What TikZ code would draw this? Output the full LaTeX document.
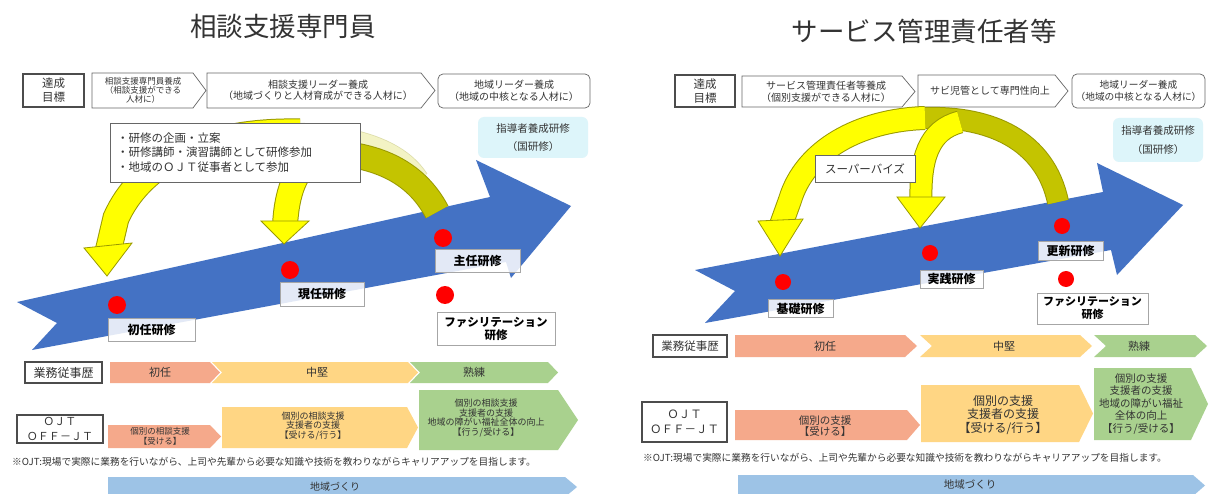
\documentclass[tikz,border=0pt]{standalone}
\usepackage{fontspec}
\setmainfont{Noto Sans CJK JP}
\usetikzlibrary{calc}
\definecolor{bluearr}{HTML}{4472C4}
\definecolor{redd}{HTML}{FF0000}
\definecolor{yel}{HTML}{FFFF00}
\definecolor{olv}{HTML}{C4C400}
\definecolor{olvd}{HTML}{9A9A00}
\definecolor{pale}{HTML}{F3F3C4}
\definecolor{paled}{HTML}{DCDCA8}
\definecolor{salmon}{HTML}{F5A98B}
\definecolor{midor}{HTML}{FFD684}
\definecolor{grn}{HTML}{A9D18E}
\definecolor{lblue}{HTML}{9DC3E6}
\definecolor{cyanbox}{HTML}{DDF5FA}
\definecolor{txt}{HTML}{333333}
\newcommand{\fsz}[2]{\fontsize{#1}{#2}\selectfont}
\newcommand{\chev}[7]{\path[#1] (#2,#3) -- ({#4-#6},#3) -- (#4,{(#3+#5)/2}) -- ({#4-#6},#5) -- (#2,#5) -- ({#2+#7},{(#3+#5)/2}) -- cycle;}
\newcommand{\yband}[5]{\draw[#2, line width=#4] #5; \draw[#1, line width=#3] #5;}
\tikzset{
  goal/.style={draw=black!70, line width=1.3pt, fill=white, align=center, font=\fsz{11.5}{14}},
  chv/.style={draw=black!60, line width=0.7pt, fill=white},
  lbl/.style={draw=black!35, line width=0.8pt, fill=white, fill opacity=0.85, draw opacity=1, text opacity=1, font=\bfseries\fsz{12}{14}, text=black},
  dotn/.style={circle, fill=redd, minimum size=#1},
  yhead/.style={fill=yel, draw=olvd, line width=0.8pt},
  plainbox/.style={draw=black!60, line width=0.8pt, fill=white}
}
\begin{document}
\begin{tikzpicture}[x=1pt,y=-1pt, every node/.style={inner sep=0pt, text=txt}]
\useasboundingbox (0,0) rectangle (1209,494);
\fill[white] (0,0) rectangle (1209,494);

% titles
\node[font=\fsz{26.5}{30}] (t1) at (283,26) {相談支援専門員};
\node[font=\fsz{26.5}{30}] (t2) at (924,31) {サービス管理責任者等};

% ===== LEFT top row
\node[goal, minimum width=61pt, minimum height=33pt] (g1) at (53.5,90.5) {達成\\目標};
\chev{chv}{92}{73}{206}{108}{13}{0}
\node[font=\fsz{8.5}{8.8}, align=center] (c1) at (143,90.5) {相談支援専門員養成\\（相談支援ができる\\人材に）};
\chev{chv}{207}{73}{435}{108}{14}{0}
\node[font=\fsz{10}{11.5}, align=center] (c2) at (318,90.5) {相談支援リーダー養成\\（地域づくりと人材育成ができる人材に）};
\node[chv, rounded corners=5pt, minimum width=152pt, minimum height=34pt, align=center, font=\fsz{10}{11.5}] (c3) at (514,91) {地域リーダー養成\\（地域の中核となる人材に）};
\node[fill=cyanbox, rounded corners=6pt, minimum width=110pt, minimum height=41pt, align=center, font=\fsz{10.5}{18}] (k1) at (533,137.5) {指導者養成研修\\（国研修）};

% ===== RIGHT top row
\node[goal, minimum width=60pt, minimum height=32pt] (g2) at (705,91) {達成\\目標};
\chev{chv}{742}{76}{915}{107}{13}{0}
\node[font=\fsz{10}{12}, align=center] (c4) at (826,91.5) {サービス管理責任者等養成\\（個別支援ができる人材に）};
\chev{chv}{918}{75}{1068}{107}{13}{0}
\node[font=\fsz{10}{12}] (c5) at (990,91) {サビ児管として専門性向上};
\node[chv, rounded corners=5pt, minimum width=133pt, minimum height=34pt, align=center, font=\fsz{9.7}{12}] (c6) at (1138.5,91) {地域リーダー養成\\（地域の中核となる人材に）};
\node[fill=cyanbox, rounded corners=6pt, minimum width=90pt, minimum height=44pt, align=center, font=\fsz{10.5}{19}] (k2) at (1158,140) {指導者養成研修\\（国研修）};

% ===== blue arrows
\fill[bluearr] (17,302) -- (490,197) -- (476,160) -- (571,206) -- (511,278) -- (506,262) -- (32,350) -- (57,323) -- cycle;
\fill[bluearr] (695,270) -- (1103,192) -- (1097,163) -- (1183,205) -- (1117,275) -- (1111,250) -- (705,323) -- (735,291) -- cycle;

% ===== yellow arcs left
\yband{pale}{paled}{21pt}{22.5pt}{(418,180) .. controls (400,152) and (360,137) .. (300,134)}
\yband{olv}{olvd}{24pt}{26pt}{(437,212) .. controls (415,170) and (375,156) .. (335,153)}
\yband{yel}{olvd}{25pt}{27pt}{(300,132) .. controls (200,130) and (140,165) .. (116,218) -- (108,252)}
\filldraw[yhead] (84,248) -- (132,243) -- (107,276) -- cycle;
\yband{yel}{olvd}{24pt}{26pt}{(335,153) .. controls (300,154) and (287,185) .. (285,226)}
\filldraw[yhead] (261,221) -- (309,221) -- (284,244) -- cycle;

% ===== yellow arcs right
\yband{olv}{olvd}{20pt}{22pt}{(1058,202) .. controls (1045,140) and (990,116) .. (925,118)}
\yband{yel}{olvd}{22pt}{24pt}{(925,118) .. controls (860,120) and (805,150) .. (790,200) -- (781,225)}
\filldraw[yhead] (758,221) -- (803,219) -- (780,256) -- cycle;
\yband{yel}{olvd}{21pt}{23pt}{(960,122) .. controls (928,130) and (920,160) .. (921,201)}
\filldraw[yhead] (897,197) -- (945,197) -- (920,228) -- cycle;

% ===== text boxes over arcs
\node[plainbox, minimum height=59pt, text width=236pt, inner xsep=7pt, align=left, font=\fsz{11.5}{14.5}] (bl) at (235,152.5) {・研修の企画・立案\\・研修講師・演習講師として研修参加\\・地域のＯＪＴ従事者として参加};
\node[plainbox, minimum width=100pt, minimum height=27pt, font=\fsz{11.5}{14}] (sv) at (865,168.5) {スーパーバイズ};

% ===== dots & labels left
\node[dotn=18pt] (d1) at (117,305) {};
\node[dotn=18pt] (d2) at (290,270) {};
\node[dotn=18pt] (d3) at (443,238) {};
\node[dotn=18pt] (d4) at (445,295) {};
\node[lbl, minimum width=87pt, minimum height=23pt] (l1) at (151.5,329.5) {初任研修};
\node[lbl, minimum width=84pt, minimum height=24pt] (l2) at (322,294) {現任研修};
\node[lbl, minimum width=85pt, minimum height=23pt] (l3) at (477.5,260.5) {主任研修};
\node[lbl, minimum width=118pt, minimum height=33pt, align=center, font=\bfseries\fsz{11.5}{13}] (l4) at (496,328.5) {ファシリテーション\\研修};

% ===== dots & labels right
\node[dotn=16pt] (d5) at (783,282) {};
\node[dotn=16pt] (d6) at (930,253) {};
\node[dotn=16pt] (d7) at (1062,226) {};
\node[dotn=16pt] (d8) at (1066,279) {};
\node[lbl, minimum width=65pt, minimum height=18pt] (l5) at (800.5,308.5) {基礎研修};
\node[lbl, minimum width=63pt, minimum height=18pt] (l6) at (951.5,279) {実践研修};
\node[lbl, minimum width=65pt, minimum height=19pt] (l7) at (1070.5,250.5) {更新研修};
\node[lbl, minimum width=111pt, minimum height=31pt, align=center, font=\bfseries\fsz{11}{13}] (l8) at (1092.5,308.5) {ファシリテーション\\研修};

% ===== LEFT lower rows
\node[goal, line width=1.2pt, minimum width=77pt, minimum height=21pt, font=\fsz{12}{14}] (r1) at (63.5,372.5) {業務従事歴};
\chev{fill=salmon}{110}{362}{220}{383}{10}{0}
\chev{fill=midor}{212}{362}{418}{383}{10}{10}
\chev{fill=grn}{410}{362}{558}{383}{10}{10}
\node[font=\fsz{11}{13}] (r1a) at (160,372.5) {初任};
\node[font=\fsz{11}{13}] (r1b) at (317,372.5) {中堅};
\node[font=\fsz{11}{13}] (r1c) at (474,372.5) {熟練};

\node[goal, line width=1.2pt, minimum width=86pt, minimum height=28pt, font=\fsz{11}{14.5}] (o1) at (60,429) {ＯＪＴ\\ＯＦＦ－ＪＴ};
\chev{fill=salmon}{108}{425}{221}{448}{11}{0}
\chev{fill=midor}{222}{407}{418}{448}{11}{0}
\chev{fill=grn}{419}{390}{578}{450}{20}{0}
\node[font=\fsz{8.5}{9.5}, align=center] (r2a) at (160,436.5) {個別の相談支援\\【受ける】};
\node[font=\fsz{9}{9.8}, align=center] (r2b) at (313,426) {個別の相談支援\\支援者の支援\\【受ける/行う】};
\node[font=\fsz{9}{9.8}, align=center] (r2c) at (486,418) {個別の相談支援\\支援者の支援\\地域の障がい福祉全体の向上\\【行う/受ける】};

\node[anchor=west, font=\fsz{9.7}{11}] (n1) at (12,462) {※OJT:現場で実際に業務を行いながら、上司や先輩から必要な知識や技術を教わりながらキャリアアップを目指します。};
\chev{fill=lblue}{108}{477}{577}{497}{12}{0}
\node[font=\fsz{10}{12}] (z1) at (335,487) {地域づくり};

% ===== RIGHT lower rows
\node[goal, line width=1.2pt, minimum width=74pt, minimum height=22pt, font=\fsz{11.5}{14}] (r2) at (690,346) {業務従事歴};
\chev{fill=salmon}{735}{335}{917}{357}{12}{0}
\chev{fill=midor}{920}{335}{1092}{357}{12}{12}
\chev{fill=grn}{1094}{335}{1207}{357}{12}{12}
\node[font=\fsz{11}{13}] (r3a) at (825,346) {初任};
\node[font=\fsz{11}{13}] (r3b) at (1004,346) {中堅};
\node[font=\fsz{11}{13}] (r3c) at (1139,346) {熟練};

\node[goal, line width=1.2pt, minimum width=85pt, minimum height=40pt, font=\fsz{11.5}{15}] (o2) at (684.5,422) {ＯＪＴ\\ＯＦＦ－ＪＴ};
\chev{fill=salmon}{735}{410}{920}{440}{13}{0}
\chev{fill=midor}{921}{385}{1093}{442}{14}{0}
\chev{fill=grn}{1094}{368}{1208}{440}{17}{0}
\node[font=\fsz{10.5}{11.5}, align=center] (r4a) at (825,426) {個別の支援\\【受ける】};
\node[font=\fsz{12}{13.3}, align=center] (r4b) at (1003,415) {個別の支援\\支援者の支援\\【受ける/行う】};
\node[font=\fsz{10.5}{12.5}, align=center] (r4c) at (1141,404) {個別の支援\\支援者の支援\\地域の障がい福祉\\全体の向上\\【行う/受ける】};

\node[anchor=west, font=\fsz{9.7}{11}] (n2) at (643,458) {※OJT:現場で実際に業務を行いながら、上司や先輩から必要な知識や技術を教わりながらキャリアアップを目指します。};
\chev{fill=lblue}{738}{475}{1205}{496}{12}{0}
\node[font=\fsz{10.5}{12}] (z2) at (970,485) {地域づくり};
\end{tikzpicture}
\end{document}
